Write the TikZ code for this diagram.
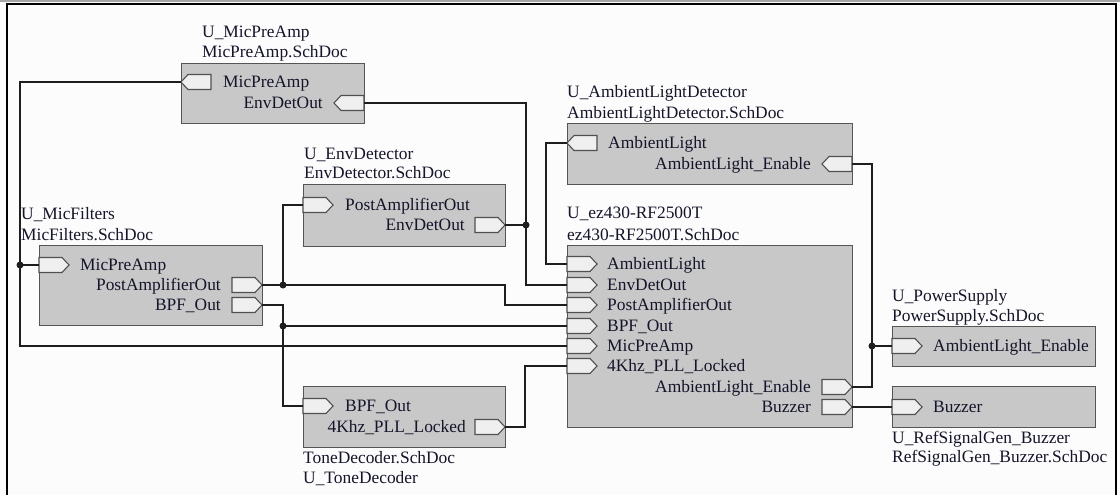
\documentclass[tikz,border=0pt]{standalone}
\usepackage{fontspec}
\setmainfont{Liberation Serif}
\definecolor{bgc}{HTML}{FCFCFC}
\definecolor{boxfill}{HTML}{C8C8C8}
\definecolor{boxline}{HTML}{555555}
\definecolor{portfill}{HTML}{EFEFEF}
\definecolor{portline}{HTML}{505050}
\definecolor{wirec}{HTML}{1E1E1E}
\definecolor{txt}{HTML}{14142A}
\tikzset{
 blk/.style={draw=boxline, fill=boxfill, line width=1.4pt, inner sep=0pt, anchor=north west},
 portshape/.style={draw=portline, fill=portfill, line width=1.1pt, line join=miter},
 wire/.style={line width=1.8pt, draw=wirec},
 lbl/.style={inner sep=0pt, text height=11.5pt, text depth=0pt, font=\fontsize{17.4}{20}\selectfont, text=txt},
 lw/.style={lbl, anchor=west},
 le/.style={lbl, anchor=east},
 jn/.style={circle, fill=wirec, inner sep=0pt, minimum size=7pt},
 pics/pR/.style={code={\draw[portshape] (0,-7.5) -- (23,-7.5) -- (30,0) -- (23,7.5) -- (0,7.5) -- cycle;}},
 pics/pL/.style={code={\draw[portshape] (0,0) -- (7,-7.5) -- (30,-7.5) -- (30,7.5) -- (7,7.5) -- cycle;}},
}
\begin{document}
\begin{tikzpicture}[x=1pt,y=-1pt]
\useasboundingbox (0,0) rectangle (1120,495);
\fill[bgc] (0,0) rectangle (1120,495);
\fill[black!35] (0,0) rectangle (1120,2.5);
\draw[line width=1.5pt, black] (7,500) -- (7,4) -- (1116,4) -- (1116,500);

% ---------- MicPreAmp
\node[blk, minimum width=183pt, minimum height=60pt] (mpa) at (181,63) {};
\pic at (181,82) {pL}; \coordinate (mpa-mic) at (181,82);
\pic at (334,103) {pL}; \coordinate (mpa-env) at (364,103);
\node[lw] (t1) at (223,82) {MicPreAmp};
\node[le] (t2) at (323,103) {EnvDetOut};
\node[lw] (h1) at (202,32) {U\_MicPreAmp};
\node[lw] (h2) at (202,52) {MicPreAmp.SchDoc};

% ---------- EnvDetector
\node[blk, minimum width=202pt, minimum height=62pt] (ed) at (303,184) {};
\pic at (303,205) {pR}; \coordinate (ed-post) at (303,205);
\pic at (475,225) {pR}; \coordinate (ed-env) at (505,225);
\node[lw] (t3) at (345,205) {PostAmplifierOut};
\node[le] (t4) at (465,225) {EnvDetOut};
\node[lw] (h3) at (304,154) {U\_EnvDetector};
\node[lw] (h4) at (304,173) {EnvDetector.SchDoc};

% ---------- MicFilters
\node[blk, minimum width=223pt, minimum height=80pt] (mf) at (39,245) {};
\pic at (39,265) {pR}; \coordinate (mf-mic) at (39,265);
\pic at (232,285) {pR}; \coordinate (mf-post) at (262,285);
\pic at (232,305) {pR}; \coordinate (mf-bpf) at (262,305);
\node[lw] (t5) at (80,265) {MicPreAmp};
\node[le] (t6) at (221,285) {PostAmplifierOut};
\node[le] (t7) at (221,305) {BPF\_Out};
\node[lw] (h5) at (21,214) {U\_MicFilters};
\node[lw] (h6) at (21,235) {MicFilters.SchDoc};

% ---------- ToneDecoder
\node[blk, minimum width=202pt, minimum height=61pt] (td) at (303,386) {};
\pic at (303,406) {pR}; \coordinate (td-bpf) at (303,406);
\pic at (475,427) {pR}; \coordinate (td-pll) at (505,427);
\node[lw] (t8) at (345,406) {BPF\_Out};
\node[le] (t9) at (466,427) {4Khz\_PLL\_Locked};
\node[lw] (h7) at (303,458) {ToneDecoder.SchDoc};
\node[lw] (h8) at (303,478) {U\_ToneDecoder};

% ---------- AmbientLightDetector
\node[blk, minimum width=285pt, minimum height=61pt] (ald) at (567,123) {};
\pic at (567,143) {pL}; \coordinate (ald-amb) at (567,143);
\pic at (822,164) {pL}; \coordinate (ald-en) at (852,164);
\node[lw] (t10) at (608,143) {AmbientLight};
\node[le] (t11) at (811,164) {AmbientLight\_Enable};
\node[lw] (h9) at (567,92) {U\_AmbientLightDetector};
\node[lw] (h10) at (567,113) {AmbientLightDetector.SchDoc};

% ---------- ez430
\node[blk, minimum width=285pt, minimum height=182pt] (ez) at (567,245) {};
\pic at (567,264) {pR}; \coordinate (ez-amb) at (567,264);
\pic at (567,285) {pR}; \coordinate (ez-env) at (567,285);
\pic at (567,305) {pR}; \coordinate (ez-post) at (567,305);
\pic at (567,326) {pR}; \coordinate (ez-bpf) at (567,326);
\pic at (567,346) {pR}; \coordinate (ez-mic) at (567,346);
\pic at (567,366) {pR}; \coordinate (ez-pll) at (567,366);
\pic at (822,387) {pR}; \coordinate (ez-en) at (852,387);
\pic at (822,407) {pR}; \coordinate (ez-buz) at (852,407);
\node[lw] (t12) at (607,264) {AmbientLight};
\node[lw] (t13) at (607,285) {EnvDetOut};
\node[lw] (t14) at (607,305) {PostAmplifierOut};
\node[lw] (t15) at (607,326) {BPF\_Out};
\node[lw] (t16) at (607,346) {MicPreAmp};
\node[lw] (t17) at (607,366) {4Khz\_PLL\_Locked};
\node[le] (t18) at (811,387) {AmbientLight\_Enable};
\node[le] (t19) at (811,407) {Buzzer};
\node[lw] (h11) at (567,213) {U\_ez430-RF2500T};
\node[lw] (h12) at (567,235) {ez430-RF2500T.SchDoc};

% ---------- PowerSupply
\node[blk, minimum width=203pt, minimum height=40pt] (ps) at (892,326) {};
\pic at (892,346) {pR}; \coordinate (ps-en) at (892,346);
\node[lw] (t20) at (933,346) {AmbientLight\_Enable};
\node[lw] (h13) at (892,296) {U\_PowerSupply};
\node[lw] (h14) at (892,316) {PowerSupply.SchDoc};

% ---------- Buzzer
\node[blk, minimum width=203pt, minimum height=41pt] (bz) at (892,386) {};
\pic at (892,407) {pR}; \coordinate (bz-buz) at (892,407);
\node[lw] (t21) at (933,407) {Buzzer};
\node[lw] (h15) at (892,438) {U\_RefSignalGen\_Buzzer};
\node[lw] (h16) at (892,457) {RefSignalGen\_Buzzer.SchDoc};

% ---------- wires
\coordinate (b1) at (20,82);
\coordinate (b2) at (526,103);
\coordinate (b3) at (505,285);
\coordinate (b4) at (283,305);
\coordinate (b5) at (525,427);
\coordinate (b6) at (546,143);
\coordinate (b7) at (872,387);
\coordinate (j1) at (20,265);
\coordinate (j2) at (526,225);
\coordinate (j3) at (283,285);
\coordinate (j4) at (283,326);
\coordinate (j7) at (872,346);

\draw[wire] (mpa-mic) -- (b1) |- (ez-mic);
\draw[wire] (j1) -- (mf-mic);
\draw[wire] (mpa-env) -- (b2) |- (ez-env);
\draw[wire] (ed-env) -- (j2);
\draw[wire] (mf-post) -- (b3) |- (ez-post);
\draw[wire] (j3) |- (ed-post);
\draw[wire] (mf-bpf) -- (b4) |- (td-bpf);
\draw[wire] (j4) -- (ez-bpf);
\draw[wire] (td-pll) -- (b5) |- (ez-pll);
\draw[wire] (ald-amb) -- (b6) |- (ez-amb);
\draw[wire] (ez-en) -- (b7) |- (ald-en);
\draw[wire] (j7) -- (ps-en);
\draw[wire] (ez-buz) -- (bz-buz);

\node[jn] (d1) at (j1) {};
\node[jn] (d2) at (j2) {};
\node[jn] (d3) at (j3) {};
\node[jn] (d4) at (j4) {};
\node[jn] (d7) at (j7) {};
\end{tikzpicture}
\end{document}
